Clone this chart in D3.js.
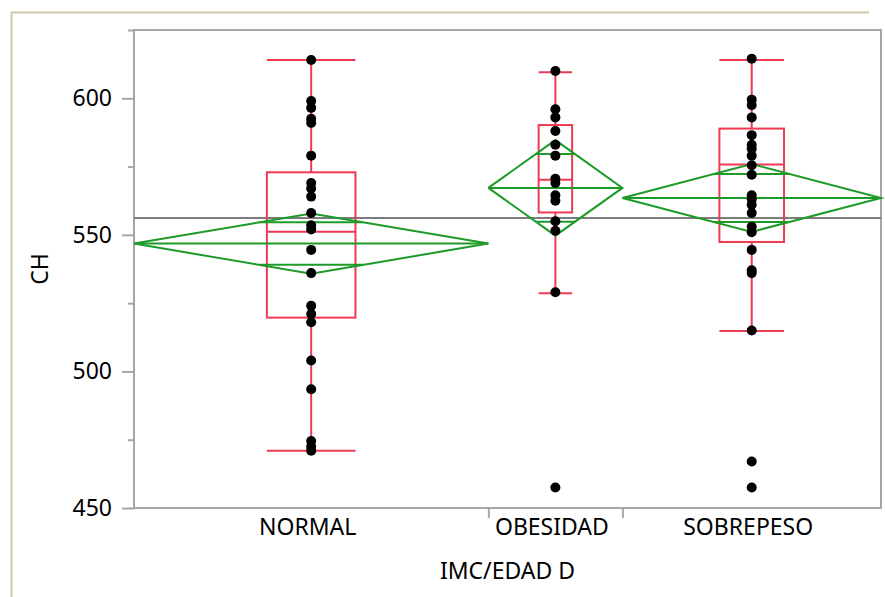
<!DOCTYPE html>
<html>
<head>
<meta charset="utf-8">
<script src="https://cdn.jsdelivr.net/npm/d3@7"></script>
<style>
  body { margin: 0; background: #fff; }
  svg { display: block; font-family: "Noto Sans", "Open Sans", sans-serif; }
</style>
</head>
<body>
<svg id="chart" width="885" height="597"></svg>
<script>
///// Data

var groups = ["NORMAL", "OBESIDAD", "SOBREPESO"];
// group sizes (JMP draws each group with a width proportional to its count)
var groupN = [37, 14, 27];

var normalCH = [614, 599, 596.5, 592.5, 591, 579, 569, 567, 564, 558, 553.5, 552,
                544.5, 536, 524, 521, 518, 504, 493.5, 474.5, 472.5, 471];
var obesidadCH = [610, 596, 593, 588, 583, 579, 570.5, 569, 564.5, 562.5, 555,
                  551.5, 529, 457.5];
var sobrepesoCH = [614.5, 599.5, 597.5, 593, 586.5, 583, 581.5, 579, 575.5, 572,
                   564.5, 563, 561, 558, 553, 551, 544.5, 537, 536, 515, 467, 457.5];

// box plots: whisker low, q1, median, q3, whisker high
var boxLo  = [471, 528.6, 514.8];
var boxQ1  = [519.7, 558.2, 547.4];
var boxMed = [551.1, 570.2, 575.8];
var boxQ3  = [572.9, 590.2, 588.9];
var boxHi  = [614, 609.5, 614];

// means diamonds: group mean and 95% CI half width
var groupMean = [546.8, 567.2, 563.5];
var ciHalf    = [11.0, 17.5, 12.4];
var grandMean = 556.2;

var yMajor = [450, 500, 550, 600];
var yMinor = [475, 525, 575, 625];

var points = [normalCH, obesidadCH, sobrepesoCH];

///// Layout

var margin = {top: 30, right: 4, bottom: 89, left: 134},
    width = 885 - margin.left - margin.right,
    height = 597 - margin.top - margin.bottom;

var red = "#ee3a52", green = "#1e9a28", frame = "#a6a6a6";
var fontSize = "23px";

var svg = d3.select("#chart");

// outer report frame
svg.append("path")
    .attr("d", "M11.5,597V12.5H869")
    .attr("fill", "none")
    .attr("stroke", "#cfc8a6")
    .attr("stroke-width", 2);

var g = svg.append("g")
    .attr("transform", "translate(" + margin.left + "," + margin.top + ")");

// scales
var total = d3.sum(groupN);
var starts = [];
groupN.reduce(function(acc, n, i) { starts[i] = acc; return acc + n; }, 0);

var x = d3.scaleLinear().domain([0, total]).range([0, width]);
var y = d3.scaleLinear().domain([450, 625]).range([height, 0]);

function left(i) { return x(starts[i]); }
function right(i) { return x(starts[i] + groupN[i]); }
function mid(i) { return x(starts[i] + groupN[i] / 2); }

// plot frame
g.append("rect")
    .attr("width", width)
    .attr("height", height)
    .attr("fill", "none")
    .attr("stroke", frame)
    .attr("stroke-width", 2);

// Y axis
var yAxis = g.append("g")
    .call(d3.axisLeft(y).tickValues(yMajor).tickSize(12).tickPadding(10)
        .tickFormat(d3.format("d")));
var yMinorAxis = g.append("g")
    .call(d3.axisLeft(y).tickValues(yMinor).tickSize(6).tickFormat(""));

// X axis: boundaries as ticks, names at group centres
var xTicks = g.append("g")
    .attr("transform", "translate(0," + height + ")")
    .call(d3.axisBottom(x).tickValues(starts.slice(1)).tickSize(10).tickFormat(""));
var xLabels = g.append("g")
    .attr("transform", "translate(0," + height + ")")
    .call(d3.axisBottom(x)
        .tickValues(groups.map(function(d, i) { return starts[i] + groupN[i] / 2; }))
        .tickSize(0).tickPadding(11)
        .tickFormat(function(d, i) { return groups[i]; }));
xLabels.selectAll("text").attr("dx", -4);

[yAxis, yMinorAxis, xTicks, xLabels].forEach(function(a) {
    a.select(".domain").remove();
    a.selectAll("line").attr("stroke", frame).attr("stroke-width", 2);
    a.selectAll("text").attr("fill", "#000").style("font-size", fontSize)
        .style("font-family", "'Noto Sans', sans-serif");
});

// grand mean
g.append("line")
    .attr("x1", 0).attr("x2", width)
    .attr("y1", y(grandMean)).attr("y2", y(grandMean))
    .attr("stroke", "#7c7c7c")
    .attr("stroke-width", 2);

// box plots
var boxes = g.selectAll(".box")
    .data(groups)
    .enter().append("g")
    .attr("class", "box")
    .attr("fill", "none")
    .attr("stroke", red)
    .attr("stroke-width", 2);

boxes.each(function(d, i) {
    var b = d3.select(this);
    var half = (right(i) - left(i)) / 8;
    var cx = mid(i);
    b.append("rect")
        .attr("x", cx - half).attr("width", 2 * half)
        .attr("y", y(boxQ3[i])).attr("height", y(boxQ1[i]) - y(boxQ3[i]));
    b.append("line")
        .attr("x1", cx - half).attr("x2", cx + half)
        .attr("y1", y(boxMed[i])).attr("y2", y(boxMed[i]));
    b.append("line")
        .attr("x1", cx).attr("x2", cx)
        .attr("y1", y(boxQ3[i])).attr("y2", y(boxHi[i]));
    b.append("line")
        .attr("x1", cx).attr("x2", cx)
        .attr("y1", y(boxQ1[i])).attr("y2", y(boxLo[i]));
    [boxHi[i], boxLo[i]].forEach(function(v) {
        b.append("line")
            .attr("x1", cx - half).attr("x2", cx + half)
            .attr("y1", y(v)).attr("y2", y(v));
    });
});

// means diamonds with overlap marks
var diamonds = g.selectAll(".diamond")
    .data(groups)
    .enter().append("g")
    .attr("class", "diamond")
    .attr("fill", "none")
    .attr("stroke", green)
    .attr("stroke-width", 2);

diamonds.each(function(d, i) {
    var dm = d3.select(this);
    var x0 = left(i), x1 = right(i), cx = mid(i);
    var m = groupMean[i], c = ciHalf[i];
    dm.append("path")
        .attr("d", d3.line()([
            [x0, y(m)], [cx, y(m + c)], [x1, y(m)], [cx, y(m - c)], [x0, y(m)]
        ]));
    dm.append("line")
        .attr("x1", x0).attr("x2", x1)
        .attr("y1", y(m)).attr("y2", y(m));
    // overlap marks at mean +- ci/sqrt(2), drawn between the diamond edges
    var k = 1 - Math.SQRT1_2;
    var hw = (cx - x0) * k;
    [m + c * Math.SQRT1_2, m - c * Math.SQRT1_2].forEach(function(v) {
        dm.append("line")
            .attr("x1", cx - hw).attr("x2", cx + hw)
            .attr("y1", y(v)).attr("y2", y(v));
    });
});

// data points
points.forEach(function(vals, i) {
    g.selectAll(".pt" + i)
        .data(vals)
        .enter().append("circle")
        .attr("class", "pt" + i)
        .attr("cx", mid(i))
        .attr("cy", function(d) { return y(d); })
        .attr("r", 5)
        .attr("fill", "#000");
});

// axis titles
svg.append("text")
    .attr("x", margin.left + width / 2)
    .attr("y", 579)
    .attr("text-anchor", "middle")
    .style("font-size", fontSize)
    .text("IMC/EDAD D");

svg.append("text")
    .attr("transform", "translate(48," + (margin.top + height / 2) + ") rotate(-90)")
    .attr("text-anchor", "middle")
    .style("font-size", fontSize)
    .text("CH");
</script>
</body>
</html>
